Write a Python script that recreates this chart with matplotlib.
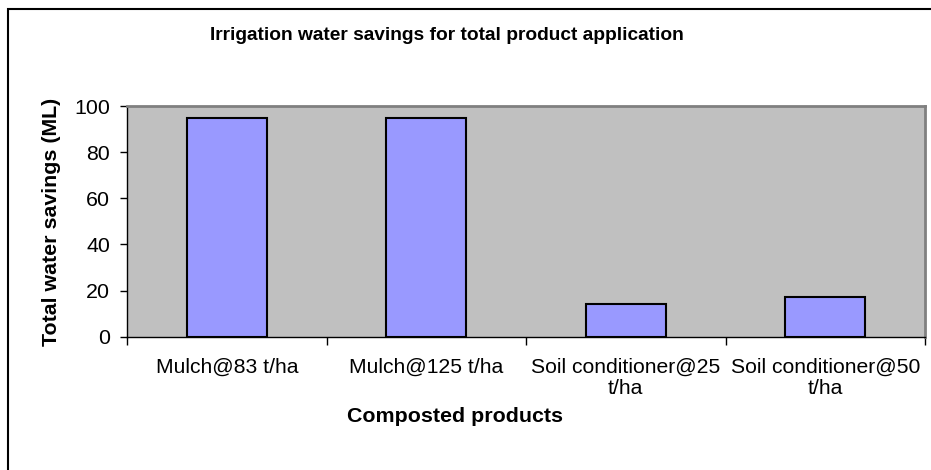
import matplotlib
matplotlib.use('Agg')
import matplotlib.pyplot as plt
import numpy as np
from matplotlib.patches import Rectangle

matplotlib.rc('font', family='Liberation Sans', size=14)

# irrigation water savings per composted product (ML)
products = ['Mulch@83 t/ha', 'Mulch@125 t/ha', 'Soil conditioner@25\nt/ha', 'Soil conditioner@50\nt/ha']
savings = [95, 95, 14, 17]
yticks = [0, 20, 40, 60, 80, 100]

W, H = 931, 470
fig = plt.figure(figsize=(W / 100, H / 100), dpi=100)

# chart area border (runs off the right and bottom edges)
fig.patches.append(Rectangle((7.5 / W, -0.1), 1.2, 1.1 - 8.5 / H, transform=fig.transFigure,
                             fill=False, edgecolor='black', linewidth=1.5))

ax = fig.add_axes([127 / W, 133.3 / H, 798 / W, 230.7 / H])
ax.set_facecolor('#C0C0C0')

ind = np.arange(len(products))
ax.bar(ind, savings, width=0.4, color='#9999FF', edgecolor='black', linewidth=1.5, zorder=3)

ax.set_xlim(-0.5, len(products) - 0.5)
ax.set_ylim(0, 100)
ax.set_yticks(yticks)
ax.tick_params(axis='y', direction='out', length=5, width=1, pad=7, labelsize=15.4)

# category boundary ticks, labels centred under bars
ax.set_xticks(np.arange(len(products) + 1) - 0.5)
ax.set_xticklabels([])
ax.tick_params(axis='x', which='major', direction='out', length=6, width=1)
ax.set_xticks(ind, minor=True)
ax.set_xticklabels(products, minor=True, fontsize=15.2, linespacing=1.15)
ax.tick_params(axis='x', which='minor', length=0, pad=15)

for s in ['top', 'right']:
    ax.spines[s].set_color('#808080')
    ax.spines[s].set_linewidth(2)
for s in ['left', 'bottom']:
    ax.spines[s].set_color('black')
    ax.spines[s].set_linewidth(1)

fig.text(447 / W, 1 - 36 / H, 'Irrigation water savings for total product application',
         ha='center', va='center', fontsize=13.8, fontweight='bold')
fig.text(455 / W, 1 - 417 / H, 'Composted products',
         ha='center', va='center', fontsize=15.4, fontweight='bold')
fig.text(52 / W, 1 - 222 / H, 'Total water savings (ML)', rotation=90,
         ha='center', va='center', fontsize=15.4, fontweight='bold')

fig.savefig('out.png', dpi=100)
